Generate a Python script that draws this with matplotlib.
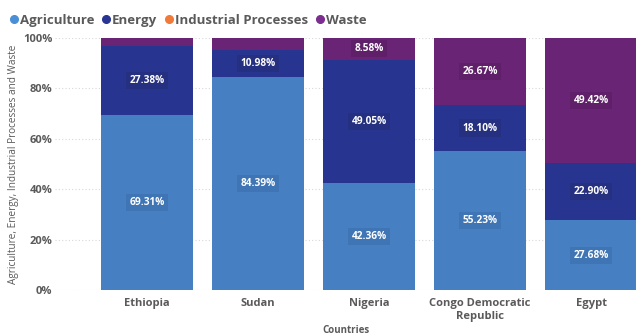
import matplotlib
matplotlib.use("Agg")
import matplotlib.pyplot as plt
from matplotlib.lines import Line2D
import numpy as np

countries = ["Ethiopia", "Sudan", "Nigeria", "Congo Democratic\nRepublic", "Egypt"]
agriculture = [69.31, 84.39, 42.36, 55.23, 27.68]
energy = [27.38, 10.98, 49.05, 18.10, 22.90]
industrial = [0.0, 0.0, 0.01, 0.0, 0.0]
waste = [3.31, 4.63, 8.58, 26.67, 49.42]

series_names = ["Agriculture", "Energy", "Industrial Processes", "Waste"]
bar_colors = ["#4680C2", "#283590", "#E8703A", "#6A2475"]
dot_colors = ["#4A8FD6", "#283593", "#F07A3A", "#7B2E8E"]
label_bg = ["#3F74B3", "#26307F", "#D0642F", "#5E2068"]

plt.rcParams["font.family"] = ["Open Sans", "DejaVu Sans"]
text_gray = "#5A5A5A"

fig = plt.figure(figsize=(6.36, 3.36), dpi=100)
ax = fig.add_axes([55 / 636, 46 / 336, 581 / 636, 252 / 336])

x = np.arange(len(countries))
width = 0.829
bottom = np.zeros(len(countries))
for vals, color, bg in zip([agriculture, energy, industrial, waste], bar_colors, label_bg):
    vals = np.array(vals)
    ax.bar(x, vals, width, bottom=bottom, color=color, zorder=2)
    for xi, v, b in zip(x, vals, bottom):
        if v >= 5:
            ax.text(xi, b + v / 2, f"{v:.2f}%", ha="center", va="center",
                    fontsize=7.3, fontweight="bold", color="white", zorder=3,
                    bbox=dict(boxstyle="square,pad=0.3", fc=bg, ec="none", alpha=0.9))
    bottom = bottom + vals

ax.set_xlim(-0.829, 4.405)
ax.set_ylim(0, 100)
ax.set_yticks([0, 20, 40, 60, 80, 100])
ax.set_yticklabels(["0%", "20%", "40%", "60%", "80%", "100%"])
ax.set_xticks(x)
ax.set_xticklabels(countries)
for lbl in ax.get_xticklabels() + ax.get_yticklabels():
    lbl.set_fontweight("bold")
    lbl.set_color(text_gray)
    lbl.set_fontsize(8)
ax.tick_params(length=0, pad=2)
ax.tick_params(axis="x", pad=6)
ax.grid(axis="y", color="#D8D8D8", linestyle=(0, (1, 2)), linewidth=0.8, zorder=0)
for s in ax.spines.values():
    s.set_visible(False)

ax.set_ylabel("Agriculture, Energy, Industrial Processes and Waste", fontsize=7.2,
              color=text_gray, labelpad=3)
ax.set_xlabel("Countries", fontsize=7, color=text_gray, fontweight="bold", labelpad=2)

handles = [Line2D([0], [0], marker="o", linestyle="none", markersize=5.5,
                  markerfacecolor=c, markeredgecolor=c) for c in dot_colors]
leg = fig.legend(handles, series_names, loc="upper left", bbox_to_anchor=(-0.005, 0.995),
                 ncol=4, frameon=False, handletextpad=0.05, columnspacing=0.5,
                 prop={"size": 9.5, "weight": "bold"}, handlelength=0.8)
for t in leg.get_texts():
    t.set_color(text_gray)

fig.savefig("out.png", dpi=100)
